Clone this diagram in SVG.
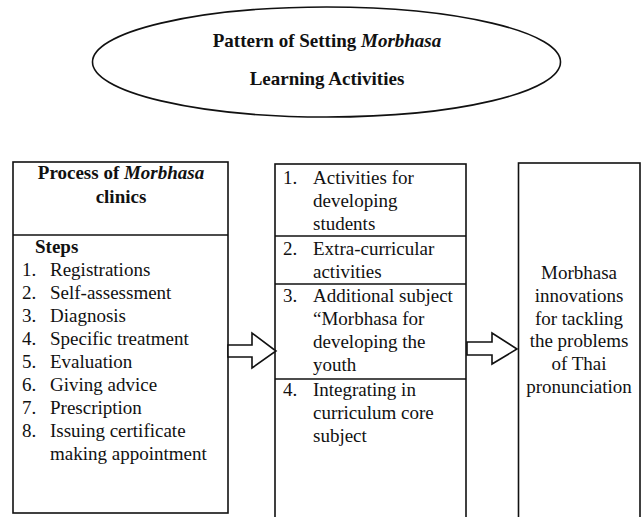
<svg xmlns="http://www.w3.org/2000/svg" width="644" height="517" viewBox="0 0 644 517">
<style>
  .box { fill: #fff; stroke: #111; stroke-width: 1.6; }
  .line { stroke: #111; stroke-width: 1.6; fill: none; }
  .arrow { fill: #fff; stroke: #111; stroke-width: 1.6; stroke-linejoin: miter; }
  text { font-family: "Liberation Serif", "Times New Roman", serif; font-size: 19px; fill: #111; }
  .b { font-weight: bold; }
  .c { text-anchor: middle; }
</style>
<rect width="644" height="517" fill="#fff"/>

<g id="title">
  <ellipse cx="326.5" cy="62" rx="234" ry="55" class="box"/>
  <text x="327" y="47" class="b c">Pattern of Setting <tspan font-style="italic">Morbhasa</tspan></text>
  <text x="327" y="85" class="b c">Learning Activities</text>
</g>

<g id="clinic-process">
  <rect x="13" y="162" width="215" height="351" class="box"/>
  <line x1="13" y1="235" x2="228" y2="235" class="line"/>
  <text x="121" y="179" class="b c">Process of <tspan font-style="italic">Morbhasa</tspan></text>
  <text x="121" y="203" class="b c">clinics</text>
  <text x="35" y="253" class="b">Steps</text>
  <text x="22" y="276">1.</text><text x="50" y="276">Registrations</text>
  <text x="22" y="299">2.</text><text x="50" y="299">Self-assessment</text>
  <text x="22" y="322">3.</text><text x="50" y="322">Diagnosis</text>
  <text x="22" y="345">4.</text><text x="50" y="345">Specific treatment</text>
  <text x="22" y="368">5.</text><text x="50" y="368">Evaluation</text>
  <text x="22" y="391">6.</text><text x="50" y="391">Giving advice</text>
  <text x="22" y="414">7.</text><text x="50" y="414">Prescription</text>
  <text x="22" y="437">8.</text><text x="50" y="437">Issuing certificate</text>
  <text x="50" y="460">making appointment</text>
</g>

<g id="activities">
  <rect x="275" y="164" width="191" height="360" class="box"/>
  <line x1="275" y1="236" x2="466" y2="236" class="line"/>
  <line x1="275" y1="284" x2="466" y2="284" class="line"/>
  <line x1="275" y1="379" x2="466" y2="379" class="line"/>
  <text x="283" y="184">1.</text><text x="313" y="184">Activities for</text>
  <text x="313" y="207">developing</text>
  <text x="313" y="230">students</text>
  <text x="283" y="255">2.</text><text x="313" y="255">Extra-curricular</text>
  <text x="313" y="278">activities</text>
  <text x="283" y="302">3.</text><text x="313" y="302">Additional subject</text>
  <text x="313" y="325">“Morbhasa for</text>
  <text x="313" y="348">developing the</text>
  <text x="313" y="371">youth</text>
  <text x="283" y="396">4.</text><text x="313" y="396">Integrating in</text>
  <text x="313" y="419">curriculum core</text>
  <text x="313" y="442">subject</text>
</g>

<g id="innovations">
  <rect x="518.5" y="163" width="121.5" height="361" class="box"/>
  <text x="579" y="279" class="c">Morbhasa</text>
  <text x="579" y="302" class="c">innovations</text>
  <text x="579" y="325" class="c">for tackling</text>
  <text x="579" y="347" class="c">the problems</text>
  <text x="579" y="370" class="c">of Thai</text>
  <text x="579" y="393" class="c">pronunciation</text>
</g>

<g id="connectors">
  <polygon class="arrow" points="228,345 252,345 252,333 276,351 252,368 252,357 228,357"/>
  <polygon class="arrow" points="467,342 492,342 492,333 517,349 492,364 492,355 467,355"/>
</g>
</svg>
